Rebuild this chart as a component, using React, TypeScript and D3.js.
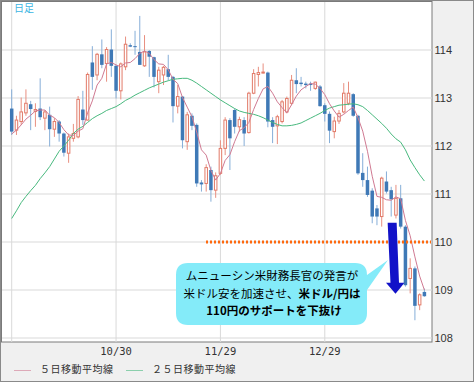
import React, { useEffect } from "react";
import * as d3 from "d3";

// ---- data (USD/JPY daily candles) ----
const opens = [112.78,112.33,112.51,112.69,112.87,112.72,112.78,112.58,112.65,112.35,112.51,112.26,111.85,112.16,112.19,112.76,112.54,113.74,113.48,113.91,113.72,114.01,113.67,113.15,113.65,114.10,114.08,113.96,113.67,113.98,113.85,113.34,113.48,113.60,113.44,112.83,113.03,112.09,112.63,112.44,111.24,111.22,111.50,111.08,111.43,111.95,112.54,112.75,112.40,112.54,112.28,113.10,113.49,113.52,113.53,112.54,112.42,112.51,112.71,112.89,113.37,113.32,113.30,113.30,113.20,113.24,112.85,112.67,112.30,112.52,112.71,112.89,113.08,112.63,111.44,111.29,111.07,110.70,110.53,111.26,111.08,110.56,110.91,110.32,109.24,109.45,108.69,108.96];
const highs = [113.18,112.63,113.01,113.18,112.94,112.89,113.41,112.75,112.82,112.58,112.54,112.28,112.26,112.46,113.04,113.15,113.53,114.08,113.94,114.22,114.06,114.43,113.69,113.74,114.28,114.14,114.40,114.71,114.31,114.00,113.86,113.65,113.67,113.90,113.46,113.27,113.04,112.71,112.68,112.47,111.29,111.62,111.57,111.45,112.12,112.60,112.58,112.78,112.61,112.60,113.13,113.60,113.65,113.72,113.55,112.60,112.65,112.96,113.03,113.48,113.62,113.44,113.34,113.34,113.34,113.27,112.89,112.72,112.61,112.75,113.31,113.34,113.10,112.65,111.85,111.57,111.12,110.77,111.36,111.47,111.15,111.19,111.19,110.35,109.66,109.49,108.93,109.03];
const lows = [112.23,112.23,112.44,112.63,112.33,112.40,112.54,112.33,111.99,112.19,112.09,111.78,111.65,112.09,112.16,112.44,112.53,113.17,113.37,113.62,113.34,113.44,112.99,112.97,113.58,114.06,113.90,113.69,113.65,113.44,113.22,113.10,113.27,113.37,112.49,112.68,111.95,111.92,112.33,111.15,111.05,111.05,110.84,110.92,111.40,111.81,111.50,112.26,112.30,112.00,112.26,113.08,113.24,113.51,112.39,112.06,112.04,112.47,112.68,112.85,113.10,113.24,113.20,113.15,113.17,112.82,112.51,112.06,112.16,112.46,112.68,112.85,112.61,111.40,111.15,110.94,110.39,110.35,110.32,111.01,110.53,110.49,110.28,109.07,108.93,108.37,108.58,108.86];
const closes = [112.30,112.54,112.71,112.89,112.77,112.76,112.60,112.71,112.35,112.51,112.26,111.86,112.19,112.26,112.97,112.54,113.49,113.44,113.91,113.69,114.01,113.67,113.15,113.71,114.12,114.07,114.06,113.69,113.96,113.86,113.44,113.58,113.64,113.44,112.83,113.03,112.12,112.65,112.42,111.22,111.20,111.55,111.08,111.38,111.95,112.54,112.16,112.40,112.55,112.26,113.10,113.51,113.53,113.54,112.51,112.40,112.61,112.92,112.99,113.37,113.29,113.29,113.27,113.27,113.33,112.83,112.67,112.32,112.52,112.68,113.10,113.10,112.63,111.43,111.29,110.98,110.53,110.53,111.33,111.05,110.89,110.91,110.32,109.10,109.45,108.67,108.90,108.87];
const ma5 = [112.25,112.33,112.44,112.56,112.64,112.73,112.75,112.75,112.64,112.59,112.49,112.34,112.23,112.22,112.31,112.36,112.69,112.94,113.27,113.41,113.71,113.74,113.69,113.65,113.73,113.74,113.82,113.93,113.98,113.93,113.80,113.71,113.70,113.59,113.39,113.30,113.01,112.81,112.61,112.29,111.92,111.81,111.49,111.29,111.43,111.70,111.82,112.09,112.32,112.38,112.49,112.76,112.99,113.19,113.24,113.10,112.92,112.80,112.69,112.86,113.04,113.17,113.24,113.30,113.29,113.20,113.07,112.88,112.73,112.60,112.66,112.74,112.81,112.59,112.31,111.89,111.37,110.95,110.93,110.88,110.87,110.94,110.90,110.45,110.13,109.69,109.29,109.00];
const ma25 = [110.49,110.65,110.82,110.95,111.07,111.18,111.32,111.44,111.57,111.73,111.89,112.00,112.12,112.26,112.35,112.41,112.49,112.57,112.63,112.68,112.74,112.78,112.82,112.88,112.95,113.00,113.06,113.11,113.16,113.21,113.25,113.29,113.33,113.36,113.39,113.40,113.41,113.41,113.37,113.31,113.24,113.17,113.10,113.03,112.96,112.90,112.84,112.78,112.73,112.70,112.68,112.66,112.63,112.59,112.54,112.49,112.45,112.42,112.42,112.43,112.45,112.48,112.53,112.58,112.63,112.68,112.74,112.79,112.82,112.85,112.86,112.87,112.88,112.86,112.82,112.74,112.65,112.56,112.47,112.37,112.25,112.15,112.08,111.92,111.71,111.55,111.40,111.27];

const yTicks = [108, 109, 110, 111, 112, 113, 114];
const xGridIdx = [0, 22, 44, 66];
const xTickIdx = [22, 44, 66];
const xTickLabels = ["10/30", "11/29", "12/29"];
const supportLevel = 110;
const legendItems = [
  { label: "５日移動平均線", color: "#d07a92" },
  { label: "２５日移動平均線", color: "#48b97e" },
];

const W = 475;
const H = 383;
const plot = { left: 1.5, top: 1.5, right: 432, bottom: 342 };

export default function App() {
  useEffect(() => {
    document.body.style.margin = "0";
  }, []);

  const x = d3.scaleLinear().domain([0, closes.length - 1]).range([11.7, 424.4]);
  const y = d3.scaleLinear().domain([108, 115]).range([338, 2]);

  const lineGen = d3
    .line<number>()
    .x((_, i) => x(i))
    .y((d) => y(d));

  const bodyW = 3.5;

  // arrow geometry anchored to the price/index scales
  const arrowTopY = y(110.4);
  const arrowHeadY = y(109.15);
  const arrowTipY = y(108.92);
  const ax0 = x(80.2);
  const ax1 = x(80.8);

  const jp = "'Noto Sans CJK JP', 'Noto Sans', sans-serif";

  return (
    <svg width={W} height={H} style={{ position: "absolute", left: 0, top: 0, display: "block" }}>
      <rect x={0.5} y={0.5} width={W - 2} height={H - 2} fill="#f0f0f0" stroke="#8a8a8a" />
      <rect
        x={plot.left}
        y={plot.top}
        width={plot.right - plot.left}
        height={plot.bottom - plot.top}
        fill="#ffffff"
        stroke="#7a7a7a"
      />
      {/* grid */}
      {yTicks.map((t) => (
        <line key={"gy" + t} x1={plot.left + 0.5} x2={plot.right} y1={y(t)} y2={y(t)} stroke="#d9d9d9" />
      ))}
      {xGridIdx.map((i) => (
        <line key={"gx" + i} x1={x(i)} x2={x(i)} y1={plot.top + 0.5} y2={plot.bottom} stroke="#d9d9d9" />
      ))}
      {/* y labels */}
      {yTicks.map((t) => (
        <text
          key={"ly" + t}
          x={434.5}
          y={y(t) + 1}
          dominantBaseline="middle"
          fontFamily="'Liberation Sans', Arial, sans-serif"
          fontSize={11}
          fill="#333"
        >
          {t}
        </text>
      ))}
      {/* x labels */}
      {xTickIdx.map((i, k) => (
        <text
          key={"lx" + i}
          x={x(i)}
          y={352}
          textAnchor="middle"
          dominantBaseline="middle"
          fontFamily="'DejaVu Sans Mono', monospace"
          fontSize={10.5}
          fill="#333"
        >
          {xTickLabels[k]}
        </text>
      ))}
      <text x={14} y={9.5} dominantBaseline="middle" fontFamily={jp} fontSize={10} fill="#3bb4e2">
        日足
      </text>
      {/* candles */}
      {closes.map((c, i) => {
        const o = opens[i];
        const bull = c >= o;
        const cx = x(i);
        const yTop = y(Math.max(o, c));
        const yBot = y(Math.min(o, c));
        const h = Math.max(1, yBot - yTop);
        return (
          <g key={"c" + i}>
            <line
              x1={cx}
              x2={cx}
              y1={y(highs[i])}
              y2={y(lows[i])}
              stroke={bull ? "#e88f80" : "#86aed8"}
              strokeWidth={1}
            />
            {bull ? (
              <rect x={cx - bodyW / 2 + 0.5} y={yTop} width={bodyW - 1} height={h} fill="#ffffff" stroke="#e27a68" strokeWidth={1} />
            ) : (
              <rect x={cx - bodyW / 2} y={yTop} width={bodyW} height={h} fill="#3f79b6" />
            )}
          </g>
        );
      })}
      {/* moving averages */}
      <path d={lineGen(ma25) || ""} fill="none" stroke="#48b97e" strokeWidth={1} />
      <path d={lineGen(ma5) || ""} fill="none" stroke="#d07a92" strokeWidth={1} />
      {/* support line */}
      <line
        x1={206}
        x2={plot.right - 1}
        y1={y(supportLevel)}
        y2={y(supportLevel)}
        stroke="#ff6a10"
        strokeWidth={3}
        strokeDasharray="2 2"
      />
      {/* callout */}
      <path
        d="M188,263 H355 Q367,263 367,275 L388,260 L367,290 V313 Q367,325 355,325 H188 Q176,325 176,313 V275 Q176,263 188,263 Z"
        fill="#84ebf9"
      />
      <g fontFamily={jp} fontSize={11.5} fill="#000" textAnchor="middle">
        <text x={272} y={277} dominantBaseline="middle">
          ムニューシン米財務長官の発言が
        </text>
        <text x={272} y={294.5} dominantBaseline="middle">
          米ドル安を加速させ、<tspan fontWeight="bold">米ドル/円は</tspan>
        </text>
        <text x={274} y={311.5} dominantBaseline="middle" fontWeight="bold">
          110円のサポートを下抜け
        </text>
      </g>
      {/* arrow */}
      <path
        d={`M${ax0 - 4.5},${arrowTopY} L${ax0 + 4.5},${arrowTopY} L${ax1 + 4},${arrowHeadY} L${ax1 + 9.5},${arrowHeadY} L${ax1 + 0.5},${arrowTipY} L${ax1 - 9},${arrowHeadY} L${ax1 - 4.5},${arrowHeadY} Z`}
        fill="#1212c8"
      />
      {/* legend */}
      {legendItems.map((it, k) => {
        const lx = k === 0 ? 14 : 126;
        return (
          <g key={"lg" + k}>
            <line x1={lx} x2={lx + 17} y1={370.5} y2={370.5} stroke={it.color} strokeOpacity={0.6} />
            <text
              x={lx + 26}
              y={370.5}
              dominantBaseline="middle"
              fontFamily={jp}
              fontSize={10}
              letterSpacing={0.5}
              fill="#333"
            >
              {it.label}
            </text>
          </g>
        );
      })}
    </svg>
  );
}
